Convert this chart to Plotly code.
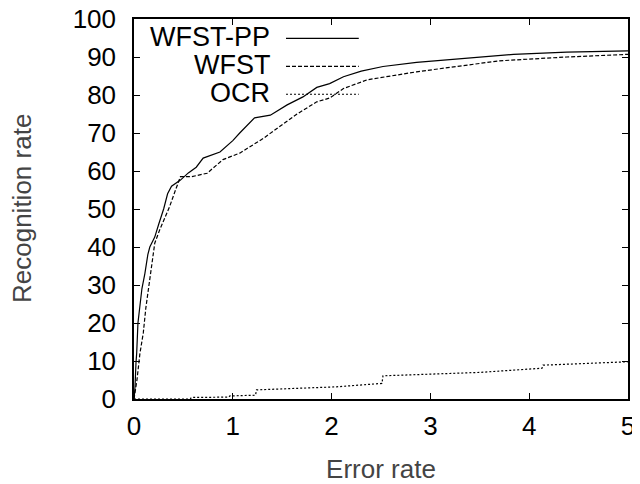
import plotly.graph_objects as go

# WFST-PP (solid)
pp_x = [0.0, 0.01, 0.02, 0.027, 0.04, 0.06, 0.08, 0.11, 0.14, 0.16, 0.21, 0.25, 0.3, 0.34,
        0.38, 0.47, 0.55, 0.63, 0.7, 0.87, 1.0, 1.07, 1.15, 1.22, 1.38, 1.55, 1.71, 1.85,
        1.98, 2.12, 2.3, 2.52, 2.86, 3.37, 3.84, 4.38, 5.0]
pp_y = [0.0, 3.0, 9.5, 12.0, 20.0, 24.0, 29.0, 33.0, 38.0, 40.0, 42.6, 46.0, 50.0, 54.0,
        56.0, 57.6, 59.5, 61.0, 63.4, 65.0, 68.0, 70.0, 72.0, 74.0, 74.7, 77.4, 79.5, 82.0,
        83.0, 84.8, 86.3, 87.5, 88.6, 89.6, 90.7, 91.3, 91.6]

# WFST (dashed)
wf_x = [0.0, 0.03, 0.06, 0.094, 0.12, 0.16, 0.21, 0.26, 0.36, 0.42, 0.47, 0.58, 0.74, 0.9,
        1.07, 1.31, 1.48, 1.65, 1.85, 1.98, 2.12, 2.36, 2.86, 3.37, 3.7, 4.38, 5.0]
wf_y = [0.0, 5.0, 12.0, 17.4, 24.0, 32.0, 41.0, 44.5, 50.6, 55.0, 58.5, 58.5, 59.4, 63.0,
        64.7, 68.6, 71.7, 75.0, 78.2, 79.2, 81.7, 84.0, 86.1, 87.9, 89.0, 90.0, 90.7]

# OCR (dotted)
ocr_x = [0.0, 0.57, 0.58, 0.96, 0.97, 1.23, 1.24, 2.05, 2.51, 2.52, 3.5, 4.13, 4.14, 5.0]
ocr_y = [0.0, 0.0, 0.4, 0.5, 0.8, 1.0, 2.4, 3.2, 4.1, 6.1, 7.0, 8.1, 8.9, 9.8]

names = ["WFST-PP", "WFST", "OCR"]
dashes = ["solid", "4px,2px", "2px,2px"]

fig = go.Figure()
fig.add_trace(go.Scatter(x=pp_x, y=pp_y, mode="lines", line=dict(color="black", width=1.2, dash=dashes[0])))
fig.add_trace(go.Scatter(x=wf_x, y=wf_y, mode="lines", line=dict(color="black", width=1.2, dash=dashes[1])))
fig.add_trace(go.Scatter(x=ocr_x, y=ocr_y, mode="lines",
                         line=dict(color="black", width=1.2, dash=dashes[2])))

# gnuplot style key: right aligned text, sample line on the right
for i, (n, d) in enumerate(zip(names, dashes)):
    yy = 0.952 - i * 0.0735
    fig.add_annotation(x=0.279, y=yy, xref="paper", yref="paper", text=n, showarrow=False,
                       xanchor="right", yanchor="middle", font=dict(size=27, color="black"))
    fig.add_shape(type="line", xref="paper", yref="paper", x0=0.3077, x1=0.455,
                  y0=yy - 0.003, y1=yy - 0.003, line=dict(color="black", width=1.2, dash=d))

# y title as annotation (axis title gets squeezed inside the margin)
fig.add_annotation(x=0, y=0.5, xref="paper", yref="paper", text="Recognition rate",
                   showarrow=False, textangle=-90, xanchor="center", yanchor="middle",
                   xshift=-112, font=dict(size=26, color="#444444"))

axis_common = dict(showline=True, mirror="ticks", linecolor="black", linewidth=1.5,
                   ticks="inside", ticklen=6, tickcolor="black", showgrid=False, zeroline=False,
                   automargin=False, ticklabeloverflow="allow",
                   tickfont=dict(size=26, color="black"))

fig.update_xaxes(range=[0, 5], dtick=1, ticklabelstandoff=3,
                 title=dict(text="Error rate", font=dict(size=26, color="#444444"), standoff=20),
                 **axis_common)
fig.update_yaxes(range=[0, 100], dtick=10, ticklabelstandoff=11, **axis_common)

# page body keeps an 8px margin; right and bottom 8px fall outside the window
fig.update_layout(width=640, height=484, margin=dict(l=126, r=20, t=11, b=93),
                  plot_bgcolor="white", paper_bgcolor="white", showlegend=False,
                  font=dict(family="Liberation Sans, Arial, sans-serif"))

fig.write_html("out.html")
